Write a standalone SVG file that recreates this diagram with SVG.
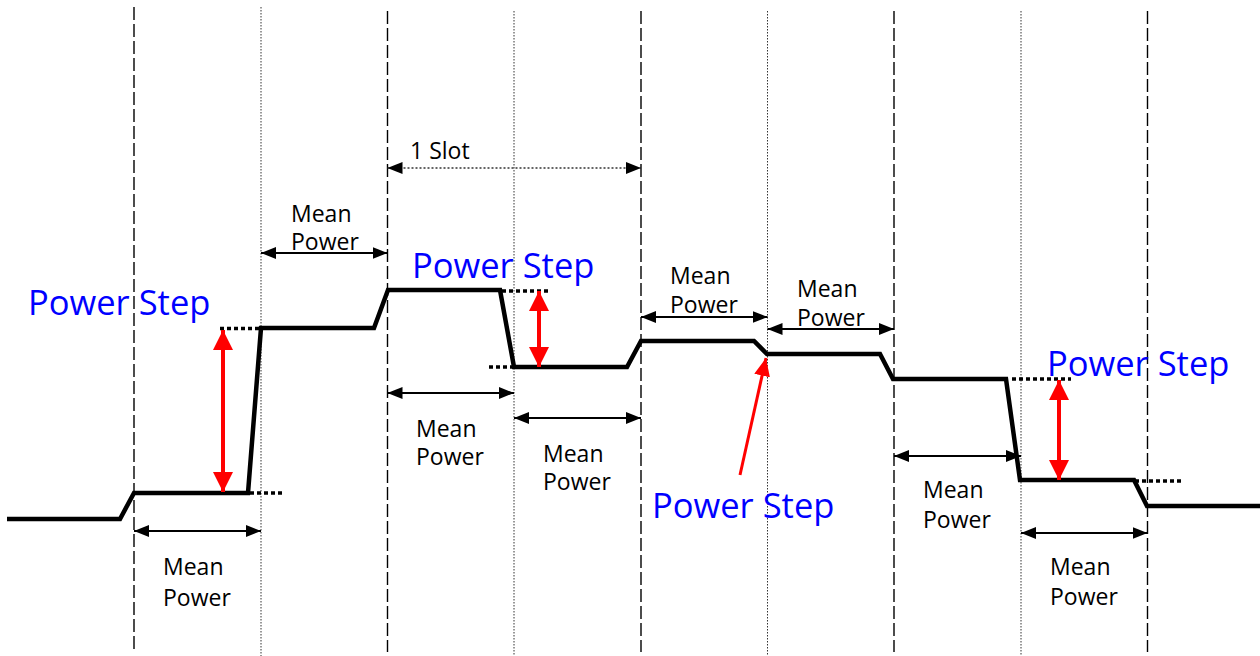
<svg xmlns="http://www.w3.org/2000/svg" width="1260" height="656" viewBox="0 0 1260 656">
<style>
.dash{stroke:#000;stroke-width:1.4;stroke-dasharray:13,4;fill:none}
.dot{stroke:#333;stroke-width:1;stroke-dasharray:1.5,1.5;fill:none}
.wave{stroke:#000;stroke-width:4.5;fill:none;stroke-linejoin:miter}
.ref{stroke:#000;stroke-width:3.5;stroke-dasharray:4,3;fill:none}
.dim{stroke:#000;stroke-width:1.8;fill:none;marker-start:url(#ah);marker-end:url(#ah)}
.slot{stroke:#333;stroke-width:1.5;stroke-dasharray:2,2;fill:none;marker-start:url(#ah);marker-end:url(#ah)}
.red2{stroke:#f00;stroke-width:4;fill:none;marker-start:url(#rh);marker-end:url(#rh)}
.red1{stroke:#f00;stroke-width:3;fill:none;marker-end:url(#rh2)}
.mp{font-family:'Open Sans','Noto Sans','DejaVu Sans',sans-serif;font-size:23px;fill:#000}
.ps{font-family:'Open Sans','Noto Sans','DejaVu Sans',sans-serif;font-size:34.5px;fill:#0000ff}
</style>
<defs>
<marker id="ah" viewBox="0 0 15 12" refX="15" refY="6" markerWidth="15" markerHeight="12" markerUnits="userSpaceOnUse" orient="auto-start-reverse"><path d="M0,0 L15,6 L0,12 z" fill="#000"/></marker>
<marker id="rh" viewBox="0 0 20 20" refX="20" refY="10" markerWidth="20" markerHeight="20" markerUnits="userSpaceOnUse" orient="auto-start-reverse"><path d="M0,0 L20,10 L0,20 z" fill="#f00"/></marker>
<marker id="rh2" viewBox="0 0 18 16" refX="18" refY="8" markerWidth="18" markerHeight="16" markerUnits="userSpaceOnUse" orient="auto"><path d="M0,0 L18,8 L0,16 z" fill="#f00"/></marker>
</defs>
<g id="grid">
<line class="dash" x1="134" y1="7" x2="134" y2="652"/>
<line class="dot" x1="261" y1="7" x2="261" y2="656"/>
<line class="dash" x1="387.5" y1="11" x2="387.5" y2="652"/>
<line class="dot" x1="514" y1="11" x2="514" y2="656"/>
<line class="dash" x1="641" y1="11" x2="641" y2="652"/>
<line class="dot" x1="767.5" y1="11" x2="767.5" y2="656"/>
<line class="dash" x1="894" y1="11" x2="894" y2="652"/>
<line class="dot" x1="1021" y1="11" x2="1021" y2="656"/>
<line class="dash" x1="1147.5" y1="11" x2="1147.5" y2="652"/>
</g>
<g id="waveform">
<polyline class="wave" points="7,519 120,519 134,493 248,493 261,328 374,328 388,290 500,290 514,367 627,367 641,341 754,341 767,354 880,354 893,379 1006,379 1020,480 1134,480 1147,506 1260,506"/>
</g>
<g id="reference-levels">
<line class="ref" x1="220" y1="328.5" x2="262" y2="328.5"/>
<line class="ref" x1="250" y1="493" x2="284" y2="493"/>
<line class="ref" x1="502" y1="291" x2="550" y2="291"/>
<line class="ref" x1="489" y1="367" x2="514" y2="367"/>
<line class="ref" x1="1012" y1="379" x2="1071" y2="379"/>
<line class="ref" x1="1135" y1="481" x2="1184" y2="481"/>
</g>
<g id="connectors">
<line class="dim" x1="134" y1="531" x2="261" y2="531"/>
<line class="dim" x1="261" y1="253" x2="387.5" y2="253"/>
<line class="dim" x1="387.5" y1="393" x2="514" y2="393"/>
<line class="dim" x1="514" y1="418" x2="641" y2="418"/>
<line class="dim" x1="641" y1="317" x2="767.5" y2="317"/>
<line class="dim" x1="767.5" y1="329" x2="894" y2="329"/>
<line class="dim" x1="894" y1="456" x2="1021" y2="456"/>
<line class="dim" x1="1021" y1="533" x2="1147.5" y2="533"/>
<line class="slot" x1="387.5" y1="168" x2="641" y2="168"/>
<line class="red2" x1="223" y1="330" x2="223" y2="492"/>
<line class="red2" x1="539" y1="291" x2="539" y2="367"/>
<line class="red2" x1="1059" y1="380" x2="1059" y2="480"/>
<line class="red1" x1="740" y1="475" x2="766" y2="358"/>
</g>
<g id="label-slot"><text class="mp" x="410" y="159">1 Slot</text></g>
<g id="mean-power-1"><text class="mp" x="163" y="575">Mean</text><text class="mp" x="163" y="606">Power</text></g>
<g id="mean-power-2"><text class="mp" x="291" y="222">Mean</text><text class="mp" x="291" y="250">Power</text></g>
<g id="mean-power-3"><text class="mp" x="416" y="437">Mean</text><text class="mp" x="416" y="465">Power</text></g>
<g id="mean-power-4"><text class="mp" x="543" y="462">Mean</text><text class="mp" x="543" y="490">Power</text></g>
<g id="mean-power-5"><text class="mp" x="670" y="284">Mean</text><text class="mp" x="670" y="313">Power</text></g>
<g id="mean-power-6"><text class="mp" x="797" y="297">Mean</text><text class="mp" x="797" y="326">Power</text></g>
<g id="mean-power-7"><text class="mp" x="923" y="498">Mean</text><text class="mp" x="923" y="528">Power</text></g>
<g id="mean-power-8"><text class="mp" x="1050" y="575">Mean</text><text class="mp" x="1050" y="605">Power</text></g>
<g id="power-step-1"><text class="ps" x="28" y="315">Power Step</text></g>
<g id="power-step-2"><text class="ps" x="412" y="278">Power Step</text></g>
<g id="power-step-3"><text class="ps" x="652" y="518">Power Step</text></g>
<g id="power-step-4"><text class="ps" x="1047" y="376">Power Step</text></g>
</svg>
